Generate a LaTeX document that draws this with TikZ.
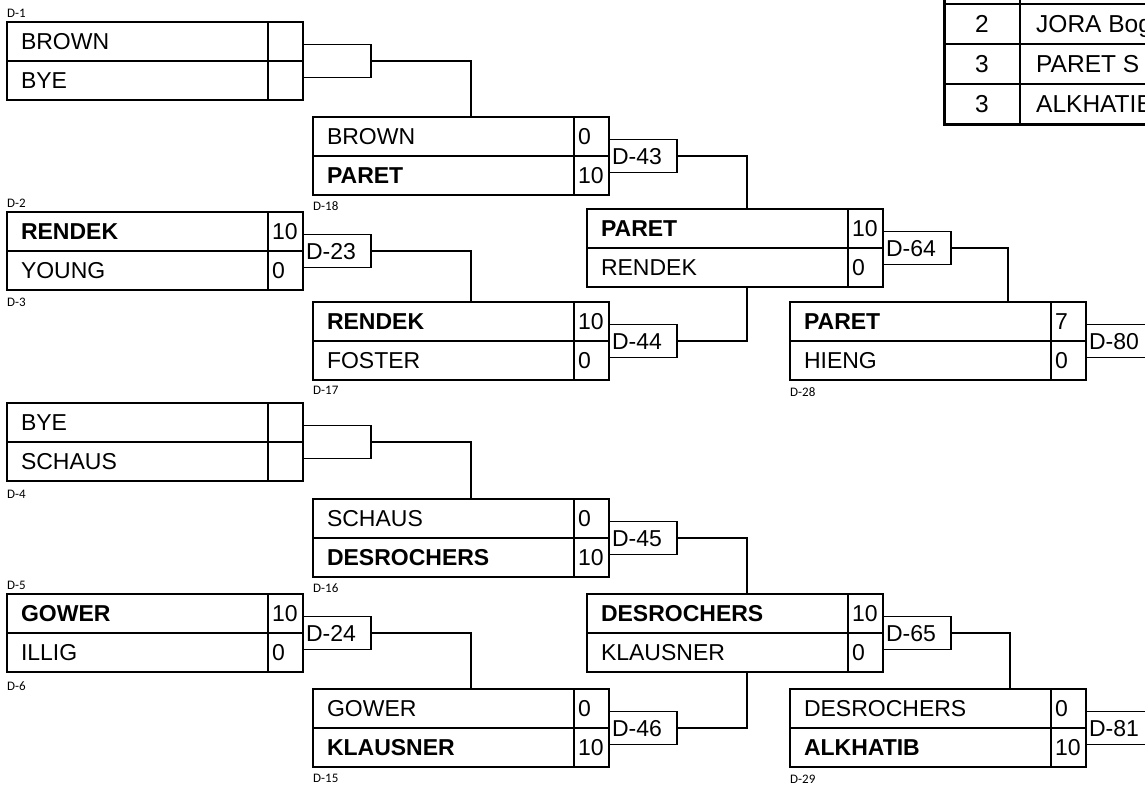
\documentclass[tikz,border=0pt]{standalone}
\usepackage{fontspec}
\setmainfont{Liberation Sans}
\newfontfamily\slotfont{Carlito}

\tikzset{%
        every node/.style = {font = \fontsize{23}{27}\selectfont},
        cell/.style = {rectangle, draw, line width = 1.3pt, outer sep = 0pt, minimum height = 39pt, inner ysep = 0pt, text height = 16.5pt, text depth = 0pt, align = left, anchor = north west},
        namecell/.style = {cell, inner xsep = 14pt, text width = 233pt},
        scorecell/.style = {cell, inner xsep = 4pt, text width = 27pt},
        dbox/.style = {rectangle, draw, line width = 1.3pt, outer sep = 0pt, minimum height = 33pt, inner ysep = 0pt, inner xsep = 3pt, text width = 62pt, text height = 16.5pt, text depth = 0pt, align = left, anchor = west},
        slot/.style = {font = \slotfont\fontsize{13}{15}\selectfont, anchor = west, inner sep = 0pt},
        tabnum/.style = {font = \fontsize{24.5}{28}\selectfont},
        tabname/.style = {font = \fontsize{24.5}{28}\selectfont, anchor = west, inner sep = 0pt, text height = 17.5pt, text depth = 0pt},
        link/.style = {line width = 1.3pt, draw = black}
    }

% one bout: name, top left corner, player 1, score 1, player 2, score 2
\newcommand{\bout}[6]{%
        \node[namecell]                                 (#1-a)  at (#2)                 {#3};
        \node[scorecell]                                (#1-as) at (#1-a.north east)    {#4};
        \node[namecell]                                 (#1-b)  at (#1-a.south west)    {#5};
        \node[scorecell]                                (#1-bs) at (#1-b.north east)    {#6};
}

\begin{document}
\begin{tikzpicture}[x = 1pt, y = -1pt]
        \useasboundingbox (0,0) rectangle (1145,785);
        \clip (0,0) rectangle (1145,785);

        % first round
        \bout{r1a}{7,22}{BROWN}{}{BYE}{}
        \bout{r1b}{7,212}{\textbf{RENDEK}}{10}{YOUNG}{0}
        \bout{r1c}{7,403}{BYE}{}{SCHAUS}{}
        \bout{r1d}{7,594}{\textbf{GOWER}}{10}{ILLIG}{0}

        % second round
        \bout{r2a}{313,117}{BROWN}{0}{\textbf{PARET}}{10}
        \bout{r2b}{313,302}{\textbf{RENDEK}}{10}{FOSTER}{0}
        \bout{r2c}{313,499}{SCHAUS}{0}{\textbf{DESROCHERS}}{10}
        \bout{r2d}{313,689}{GOWER}{0}{\textbf{KLAUSNER}}{10}

        % third round
        \bout{r3a}{587,209}{\textbf{PARET}}{10}{RENDEK}{0}
        \bout{r3b}{587,594}{\textbf{DESROCHERS}}{10}{KLAUSNER}{0}

        % fourth round
        \bout{r4a}{790,302}{\textbf{PARET}}{7}{HIENG}{0}
        \bout{r4b}{790,689}{DESROCHERS}{0}{\textbf{ALKHATIB}}{10}

        % match numbers
        \node[dbox]     (d1)    at (r1a-as.south east)  {};
        \node[dbox]     (d23)   at (r1b-as.south east)  {D-23};
        \node[dbox]     (d3)    at (r1c-as.south east)  {};
        \node[dbox]     (d24)   at (r1d-as.south east)  {D-24};
        \node[dbox]     (d43)   at (r2a-as.south east)  {D-43};
        \node[dbox]     (d44)   at (r2b-as.south east)  {D-44};
        \node[dbox]     (d45)   at (r2c-as.south east)  {D-45};
        \node[dbox]     (d46)   at (r2d-as.south east)  {D-46};
        \node[dbox]     (d64)   at (r3a-as.south east)  {D-64};
        \node[dbox]     (d65)   at (r3b-as.south east)  {D-65};
        \node[dbox]     (d80)   at (r4a-as.south east)  {D-80};
        \node[dbox]     (d81)   at (r4b-as.south east)  {D-81};

        % draw slots
        \node[slot]     (s1)    at (7,13)       {D-1};
        \node[slot]     (s2)    at (7,203)      {D-2};
        \node[slot]     (s3)    at (7,302)      {D-3};
        \node[slot]     (s4)    at (7,494)      {D-4};
        \node[slot]     (s5)    at (7,585)      {D-5};
        \node[slot]     (s6)    at (7,686)      {D-6};
        \node[slot]     (s18)   at (313,206)    {D-18};
        \node[slot]     (s17)   at (313,390)    {D-17};
        \node[slot]     (s16)   at (313,588)    {D-16};
        \node[slot]     (s15)   at (313,778)    {D-15};
        \node[slot]     (s28)   at (790,392)    {D-28};
        \node[slot]     (s29)   at (790,779)    {D-29};

        % winners move on
        \draw[link] (d1.east)  -| ([xshift = 158pt]r2a-a.north west);
        \draw[link] (d23.east) -| ([xshift = 158pt]r2b-a.north west);
        \draw[link] (d3.east)  -| ([xshift = 158pt]r2c-a.north west);
        \draw[link] (d24.east) -| ([xshift = 158pt]r2d-a.north west);
        \draw[link] (d43.east) -| ([xshift = 160pt]r3a-a.north west);
        \draw[link] (d44.east) -| ([xshift = 160pt]r3a-b.south west);
        \draw[link] (d45.east) -| ([xshift = 160pt]r3b-a.north west);
        \draw[link] (d46.east) -| ([xshift = 160pt]r3b-b.south west);
        \draw[link] (d64.east) -| ([xshift = 218pt]r4a-a.north west);
        \draw[link] (d65.east) -| ([xshift = 220pt]r4b-a.north west);

        % standings
        \draw[line width = 1.3pt] (1020,0) -- (1020,124) (944,4) -- (1145,4) (944,44) -- (1145,44) (944,84) -- (1145,84);
        \draw[line width = 3pt] (944,0) -- (944,124) -- (1145,124);
        \node[tabnum]   (t2)    at (982,24)     {2};
        \node[tabnum]   (t3a)   at (982,64)     {3};
        \node[tabnum]   (t3b)   at (982,104)    {3};
        \node[tabname]  (jora)  at (1036,24)    {JORA Bog};
        \node[tabname]  (paret) at (1036,64)    {PARET S};
        \node[tabname]  (alkh)  at (1036,104)   {ALKHATIB};
\end{tikzpicture}
\end{document}
